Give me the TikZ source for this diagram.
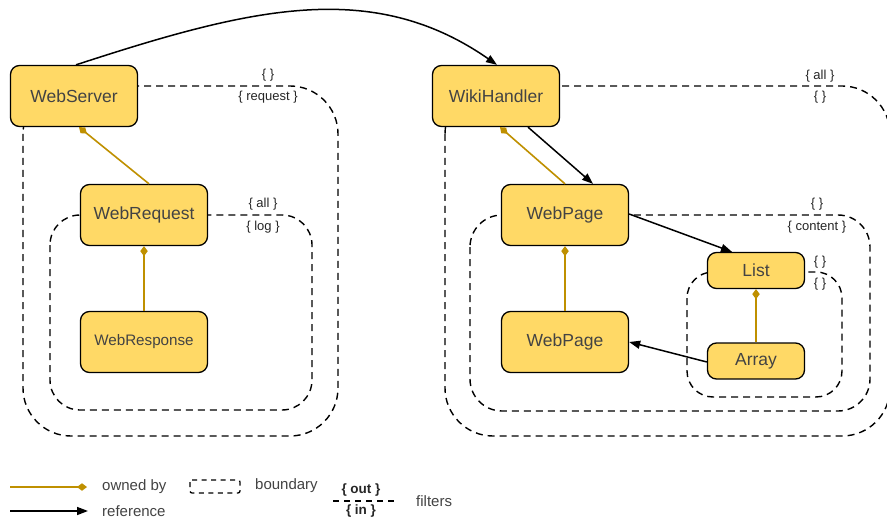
\documentclass[tikz,border=0pt]{standalone}
\usepackage{fontspec}
\setmainfont{Liberation Sans}
\usetikzlibrary{arrows.meta}
\definecolor{boxfill}{HTML}{FFD966}
\definecolor{owngold}{HTML}{BF9000}
\definecolor{boxtext}{HTML}{434343}
\definecolor{filtertext}{HTML}{262626}
\tikzset{
  cls/.style={draw=black, line width=1.3pt, fill=boxfill, rounded corners=9pt,
    minimum width=127pt, minimum height=61pt, inner sep=0pt, text=boxtext,
    font=\fontsize{17.5}{20}\selectfont},
  smallcls/.style={cls, minimum width=97pt, minimum height=36pt},
  boundary/.style={draw=black, line width=1.4pt, dash pattern=on 7pt off 5pt},
  filter/.style={text=filtertext, inner sep=0pt, font=\fontsize{13}{15}\selectfont},
  owned/.style={draw=owngold, line width=1.6pt, -{Diamond[length=10pt,width=7.5pt]}},
  ref/.style={draw=black, line width=1.5pt, -{Triangle[length=11pt,width=8pt]}},
  legendtext/.style={anchor=west, inner sep=0pt, text=boxtext, font=\fontsize{15}{17}\selectfont},
}
\begin{document}
\begin{tikzpicture}[x=1pt, y=-1pt]
\clip (0,0) rectangle (887,524);
\fill[white] (0,0) rectangle (887,524);

% scope boundaries
\draw[boundary, rounded corners=48pt] (23,86) rectangle (338,436);
\draw[boundary, rounded corners=30pt] (50,215) rectangle (312,410);
\draw[boundary, rounded corners=48pt] (445,86) rectangle (890,436);
\draw[boundary, rounded corners=32pt] (470,215) rectangle (870,411);
\draw[boundary, rounded corners=26pt] (687,272) rectangle (842,397);

% filter labels on the boundaries
\node[filter] (f1o) at (268,75) {\{ \}};
\node[filter] (f1i) at (268,97) {\{ request \}};
\node[filter] (f2o) at (263,204) {\{ all \}};
\node[filter] (f2i) at (263,227) {\{ log \}};
\node[filter] (f3o) at (820,76) {\{ all \}};
\node[filter] (f3i) at (820,97) {\{ \}};
\node[filter] (f4o) at (817,204) {\{ \}};
\node[filter] (f4i) at (817,227) {\{ content \}};
\node[filter] (f5o) at (820,262) {\{ \}};
\node[filter] (f5i) at (820,284) {\{ \}};

% classes
\node[cls] (wserver) at (74,96) {WebServer};
\node[cls] (wiki) at (496,96) {WikiHandler};
\node[cls] (wreq) at (144,215) {WebRequest};
\node[cls, font=\fontsize{15.2}{18}\selectfont] (wresp) at (144,342) {WebResponse};
\node[cls] (wp1) at (565,215) {WebPage};
\node[cls] (wp2) at (565,342) {WebPage};
\node[smallcls] (list) at (756,270.5) {List};
\node[smallcls] (array) at (756,361) {Array};

% ownership
\draw[owned] ([xshift=5pt]wreq.north) -- ([xshift=5pt]wserver.south);
\draw[owned] (wresp.north) -- (wreq.south);
\draw[owned] (wp1.north) -- ([xshift=4pt]wiki.south);
\draw[owned] (wp2.north) -- (wp1.south);
\draw[owned] (array.north) -- (list.south);

% references
\draw[ref] ([xshift=2pt]wserver.north) .. controls (250,8) and (372,-22) .. ([xshift=1pt]wiki.north);
\draw[ref] ([xshift=32pt]wiki.south) -- ([xshift=28pt]wp1.north);
\draw[ref] ([yshift=1pt]wp1.east) -- ([xshift=-24pt]list.north);
\draw[ref] ([yshift=-1pt]array.west) -- (wp2.east);

% legend
\coordinate (lo1) at (10,487);
\coordinate (lo2) at (87,487);
\coordinate (lr1) at (10,511);
\coordinate (lr2) at (88,511);
\draw[owned] (lo1) -- (lo2);
\draw[ref] (lr1) -- (lr2);
\node[legendtext] (lown) at (102,487) {owned by};
\node[legendtext] (lref) at (102,511) {reference};
\draw[draw=black, line width=1.3pt, dash pattern=on 5pt off 4.5pt, rounded corners=2pt] (190,480) rectangle (240,493);
\node[legendtext] (lbnd) at (255,486) {boundary};
\coordinate (lf1) at (333,501);
\coordinate (lf2) at (397,501);
\draw[boundary, dash pattern=on 6pt off 5pt] (lf1) -- (lf2);
\node[filter, font=\bfseries\fontsize{13.5}{15}\selectfont] (lfo) at (361,490) {\{ out \}};
\node[filter, font=\bfseries\fontsize{13.5}{15}\selectfont] (lfi) at (361,511) {\{ in \}};
\node[legendtext] (lfil) at (416,501) {filters};
\end{tikzpicture}
\end{document}
